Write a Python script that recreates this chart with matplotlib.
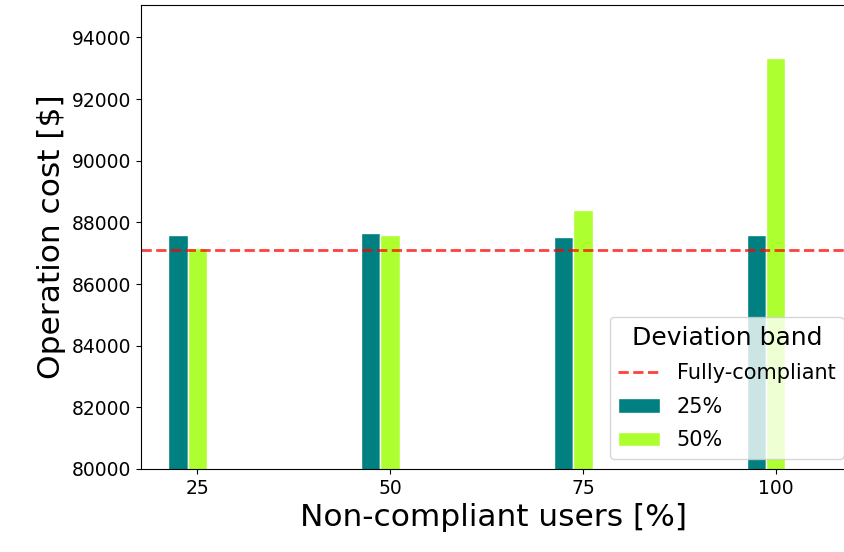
import matplotlib
matplotlib.use("Agg")
import matplotlib.pyplot as plt
import numpy as np

# Share of non-compliant users [%]
users = [25, 50, 75, 100]
# Operation cost per deviation band [$]
cost_band_25 = [87600, 87650, 87510, 87590]
cost_band_50 = [87170, 87600, 88410, 93330]
# Reference cost with all users compliant [$]
cost_fully_compliant = 87110

band_labels = ["25%", "50%"]
band_colors = ["teal", "greenyellow"]

fig = plt.figure(figsize=(8.45, 5.52), dpi=100)
W, H = 845, 552
left, right, top, bottom = 141, 847, 5, 469
ax = fig.add_axes([left / W, (H - bottom) / H, (right - left) / W, (bottom - top) / H])

x = np.array(users, dtype=float)
width = 2.5
ax.bar(x - width, cost_band_25, width=width, color=band_colors[0],
       edgecolor="white", linewidth=1, label=band_labels[0])
ax.bar(x, cost_band_50, width=width, color=band_colors[1],
       edgecolor="white", linewidth=1, label=band_labels[1])
ax.axhline(cost_fully_compliant, color="red", alpha=0.75, linestyle="--",
           linewidth=2, label="Fully-compliant")

ax.set_xlim(17.7, 109.25)
ax.set_ylim(80000, 95050)
ax.set_xticks(users)
ax.set_yticks(np.arange(80000, 94001, 2000))
ax.tick_params(labelsize=13.5)

ax.set_xlabel("Non-compliant users [%]", fontsize=22.5)
ax.set_ylabel("Operation cost [$]", fontsize=22.5)

ax.legend(title="Deviation band", fontsize=15, title_fontsize=18,
          labelspacing=0.65, loc="lower right", bbox_to_anchor=(1.01, 0.0))

fig.savefig("out.png", dpi=100)
